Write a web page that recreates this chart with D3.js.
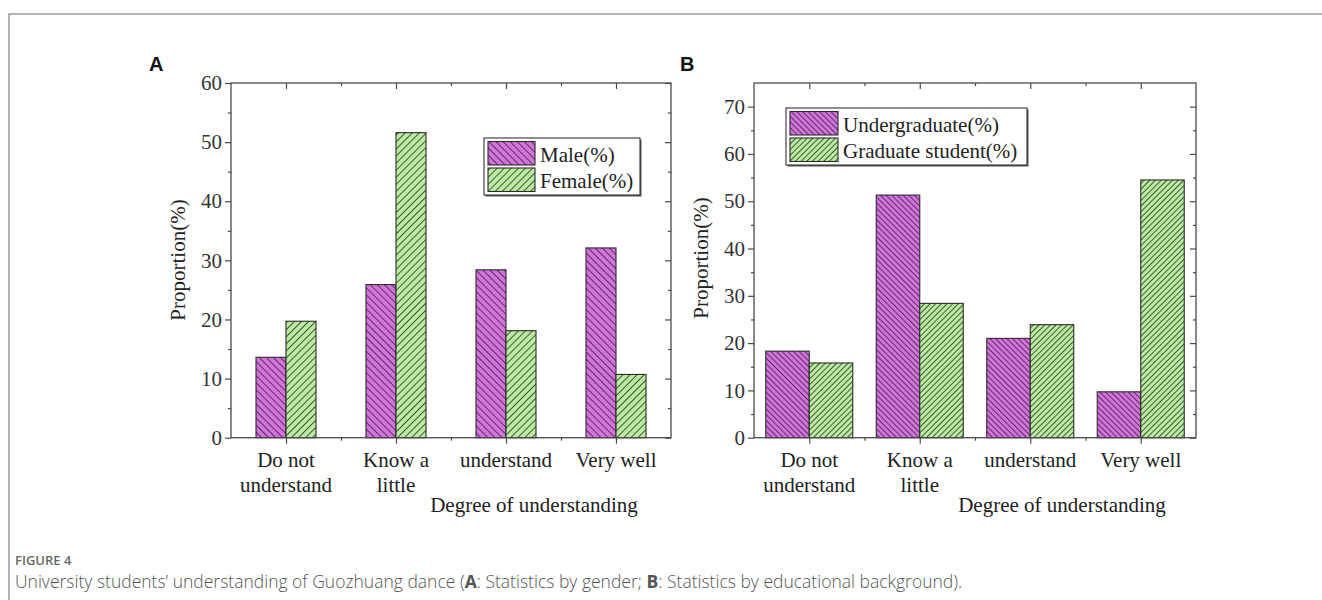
<!DOCTYPE html>
<html>
<head>
<meta charset="utf-8">
<script src="https://cdn.jsdelivr.net/npm/d3@7"></script>
<style>
  html, body { margin: 0; padding: 0; background: #fff; }
  svg { display: block; }
</style>
</head>
<body>
<svg id="fig" width="1322" height="600"></svg>
<script>
// Categories shared by both panels
const categories = [["Do not", "understand"], ["Know a", "little"], ["understand"], ["Very well"]];

// Panel A: by gender
const maleValues = [13.6, 25.9, 28.4, 32.1];
const femaleValues = [19.7, 51.6, 18.1, 10.7];
const seriesA = ["Male(%)", "Female(%)"];
const yTicksA = [0, 10, 20, 30, 40, 50, 60];

// Panel B: by educational background
const undergradValues = [18.3, 51.3, 21.0, 9.7];
const graduateValues = [15.8, 28.4, 23.9, 54.5];
const seriesB = ["Undergraduate(%)", "Graduate student(%)"];
const yTicksB = [0, 10, 20, 30, 40, 50, 60, 70];

const svg = d3.select("#fig");
const defs = svg.append("defs");

// Diagonal hatch fills
function hatch(id, fill, stroke, size, angle) {
  const p = defs.append("pattern")
    .attr("id", id)
    .attr("patternUnits", "userSpaceOnUse")
    .attr("width", size).attr("height", size)
    .attr("patternTransform", `rotate(${angle})`);
  p.append("rect").attr("width", size).attr("height", size).attr("fill", fill);
  p.append("line").attr("x1", 0.5).attr("y1", 0).attr("x2", 0.5).attr("y2", size)
    .attr("stroke", stroke).attr("stroke-width", 0.9);
}
const PURPLE = "#d077d6", PURPLE_LINE = "#5b1c6b";
const GREEN = "#bdeba3", GREEN_LINE = "#2e4a28";
hatch("hA0", PURPLE, PURPLE_LINE, 5, -45);
hatch("hA1", GREEN, GREEN_LINE, 5, 45);
hatch("hB0", PURPLE, PURPLE_LINE, 4, -45);
hatch("hB1", GREEN, GREEN_LINE, 4, 45);

// Outer frame
svg.append("path").attr("d", "M9,600 V14 H1322")
  .attr("fill", "none").attr("stroke", "#9a9a9a").attr("stroke-width", 1.5);

const SERIF = "'Liberation Serif', 'Times New Roman', serif";
const AXIS = "#4a4a4a";

function panel(cfg) {
  const g = svg.append("g");
  const x = d3.scaleLinear().domain([0.5, 4.5]).range([cfg.left, cfg.right]);
  const y = d3.scaleLinear().domain([0, cfg.yMax]).range([cfg.bottom, cfg.top]);
  const bw = cfg.barWidth;

  // bars
  cfg.series.forEach((vals, si) => {
    g.append("g").selectAll("rect").data(vals).join("rect")
      .attr("x", (d, i) => x(i + 1 + (si === 0 ? -bw : 0)))
      .attr("y", d => y(d))
      .attr("width", x(1 + bw) - x(1))
      .attr("height", d => y(0) - y(d))
      .attr("fill", `url(#${cfg.fills[si]})`)
      .attr("stroke", "#2b2b2b").attr("stroke-width", 1.1);
  });

  const majorX = d3.range(1, 5);
  const minorX = d3.range(1.5, 4.5, 1);
  const minorY = d3.range(5, cfg.yMax, 10);

  // bottom axis: outward ticks
  const bottom = g.append("g").attr("transform", `translate(0,${cfg.bottom})`)
    .call(d3.axisBottom(x).tickValues(majorX).tickSize(6).tickFormat(""));
  bottom.append("g").call(d3.axisBottom(x).tickValues(minorX).tickSize(3).tickFormat(""));
  // top axis: inward ticks
  const top = g.append("g").attr("transform", `translate(0,${cfg.top})`)
    .call(d3.axisBottom(x).tickValues(majorX).tickSize(6).tickFormat(""));
  top.append("g").call(d3.axisBottom(x).tickValues(minorX).tickSize(3).tickFormat(""));
  // left axis: outward ticks with labels
  const left = g.append("g").attr("transform", `translate(${cfg.left},0)`)
    .call(d3.axisLeft(y).tickValues(cfg.yTicks).tickSize(6).tickPadding(3));
  left.append("g").call(d3.axisLeft(y).tickValues(minorY).tickSize(3).tickFormat(""));
  // right axis: inward ticks
  const right = g.append("g").attr("transform", `translate(${cfg.right},0)`)
    .call(d3.axisLeft(y).tickValues(cfg.yTicks).tickSize(6).tickFormat(""));
  right.append("g").call(d3.axisLeft(y).tickValues(minorY).tickSize(3).tickFormat(""));

  g.selectAll(".domain").remove();
  g.selectAll(".tick line").attr("stroke", AXIS).attr("stroke-width", 1.2);
  left.selectAll(".tick text")
    .attr("font-family", SERIF).attr("font-size", 21).attr("fill", "#333");

  // frame of the plot area
  g.append("rect")
    .attr("x", cfg.left).attr("y", cfg.top)
    .attr("width", cfg.right - cfg.left).attr("height", cfg.bottom - cfg.top)
    .attr("fill", "none").attr("stroke", AXIS).attr("stroke-width", 1.3);

  // category labels
  categories.forEach((lines, i) => {
    const t = g.append("text").attr("x", x(i + 1)).attr("y", cfg.bottom + 29)
      .attr("text-anchor", "middle").attr("font-family", SERIF)
      .attr("font-size", 21).attr("fill", "#222");
    lines.forEach((ln, k) => t.append("tspan").attr("x", x(i + 1))
      .attr("dy", k === 0 ? 0 : 25.5).text(ln));
  });

  // axis titles
  g.append("text").attr("x", cfg.xTitleX).attr("y", cfg.bottom + 74)
    .attr("text-anchor", "middle").attr("font-family", SERIF)
    .attr("font-size", 21).attr("fill", "#222").text("Degree of understanding");
  g.append("text")
    .attr("transform", `translate(${cfg.yTitleX},${cfg.yTitleY}) rotate(-90)`)
    .attr("text-anchor", "middle").attr("font-family", SERIF)
    .attr("font-size", 21).attr("fill", "#222").text("Proportion(%)");

  // legend
  const L = cfg.legend;
  g.append("rect").attr("x", L.x + 1.5).attr("y", L.y + 1.5)
    .attr("width", L.w).attr("height", L.h).attr("fill", "#555");
  g.append("rect").attr("x", L.x).attr("y", L.y).attr("width", L.w).attr("height", L.h)
    .attr("fill", "#fff").attr("stroke", "#333").attr("stroke-width", 1.1);
  cfg.names.forEach((name, si) => {
    const ry = L.y + 3.5 + si * L.rowH;
    g.append("rect").attr("x", L.x + 4).attr("y", ry)
      .attr("width", L.sw).attr("height", L.rowH - 3)
      .attr("fill", `url(#${cfg.fills[si]})`)
      .attr("stroke", "#2b2b2b").attr("stroke-width", 1.1);
    g.append("text").attr("x", L.x + L.sw + 9).attr("y", ry + L.rowH - 6.5)
      .attr("font-family", SERIF).attr("font-size", 21).attr("fill", "#222").text(name);
  });

  // panel letter
  svg.append("text").attr("x", cfg.letterX).attr("y", 71)
    .attr("font-family", "'Liberation Sans', Arial, sans-serif")
    .attr("font-weight", "bold").attr("font-size", 20).attr("fill", "#111")
    .text(cfg.letter);
}

panel({
  letter: "A", letterX: 149,
  left: 231, right: 671, top: 83, bottom: 437.7, yMax: 60, yTicks: yTicksA,
  barWidth: 30 / 110, series: [maleValues, femaleValues], fills: ["hA0", "hA1"],
  names: seriesA, xTitleX: 534, yTitleX: 185, yTitleY: 260,
  legend: { x: 484, y: 138, w: 156, h: 57, rowH: 26.5, sw: 47 }
});

panel({
  letter: "B", letterX: 680,
  left: 754, right: 1196, top: 83, bottom: 437.7, yMax: 75, yTicks: yTicksB,
  barWidth: 43.5 / 110.5, series: [undergradValues, graduateValues], fills: ["hB0", "hB1"],
  names: seriesB, xTitleX: 1062, yTitleX: 708, yTitleY: 258,
  legend: { x: 786, y: 108, w: 241, h: 57, rowH: 26.5, sw: 48 }
});

// caption
svg.append("text").attr("x", 15).attr("y", 565)
  .attr("font-family", "'Open Sans', 'Noto Sans', sans-serif")
  .attr("font-size", 13).attr("font-weight", 600).attr("fill", "#666")
  .text("FIGURE 4");
const cap = svg.append("text").attr("x", 15).attr("y", 588)
  .attr("font-family", "'Open Sans', 'Noto Sans', sans-serif")
  .attr("font-size", 17.5).attr("font-weight", 300).attr("fill", "#555");
cap.append("tspan").text("University students\u2019 understanding of Guozhuang dance (");
cap.append("tspan").attr("font-weight", "bold").text("A");
cap.append("tspan").text(": Statistics by gender; ");
cap.append("tspan").attr("font-weight", "bold").text("B");
cap.append("tspan").text(": Statistics by educational background).");
</script>
</body>
</html>
